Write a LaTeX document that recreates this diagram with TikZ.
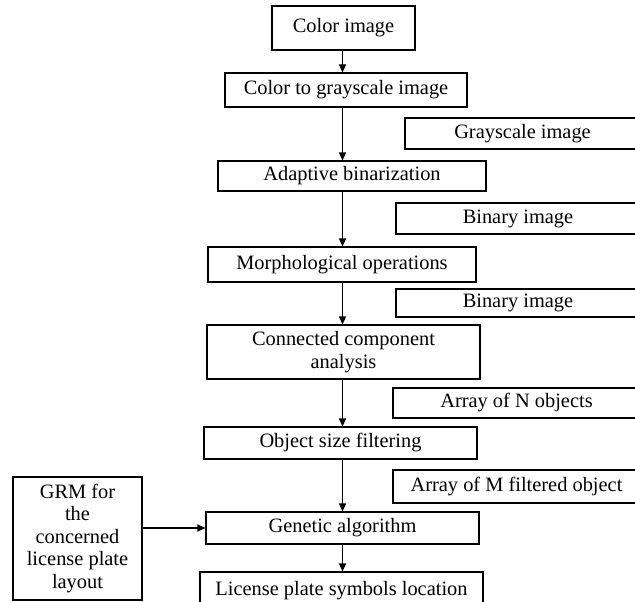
\documentclass[tikz,border=0pt]{standalone}
\usepackage{fontspec}
\setmainfont{Liberation Serif}
\usetikzlibrary{calc}
\usetikzlibrary{arrows.meta}

\begin{document}
\begin{tikzpicture}[x=1pt,y=-1pt,
  font=\fontsize{20.4}{22.5}\selectfont,
  >={Triangle[length=8pt,width=7pt]},
  box/.style={draw, line width=1.1pt, inner sep=0pt, align=center},
  flow/.style={line width=1.1pt, ->}]
\useasboundingbox (0,0) rectangle (635,602);
% main column
\node[box, minimum width=143, minimum height=44] (color) at (343.5,28) {Color image};
\node[box, minimum width=242, minimum height=34] (gray) at (346,90) {Color to grayscale image};
\node[box, minimum width=268, minimum height=30] (adapt) at (352,176) {Adaptive binarization};
\node[box, minimum width=268, minimum height=35] (morph) at (342,264.5) {Morphological operations};
\node[box, minimum width=273, minimum height=54] (conn) at (343.5,352) {Connected component\\analysis};
\node[box, minimum width=273, minimum height=32] (obj) at (340.5,443) {Object size filtering};
\node[box, minimum width=273, minimum height=32] (gen) at (342.5,528) {Genetic algorithm};
\node[box, minimum width=283, minimum height=38] (lic) at (341.5,591) {License plate symbols location};
% data between the steps
\node[box, minimum width=235, minimum height=31] (grayimg) at (522.5,133.5) {Grayscale image};
\node[box, minimum width=244, minimum height=31] (binimg) at (518,218.5) {Binary image};
\node[box, minimum width=244, minimum height=28] (binimgb) at (518,303) {Binary image};
\node[box, minimum width=247, minimum height=30] (arrn) at (516.5,403) {Array of N objects};
\node[box, minimum width=247, minimum height=33] (arrm) at (516.5,486.5) {Array of M filtered object};
% model input
\node[box, minimum width=129, minimum height=123] (grm) at (77.5,538.5) {GRM for\\the\\concerned\\license plate\\layout};

\coordinate (spine) at (342.5,0);
\foreach \a/\b in {color/gray,gray/adapt,adapt/morph,morph/conn,conn/obj,obj/gen,gen/lic}
  \draw[flow] (\a.south -| spine) -- (\b.north -| spine);
\draw[flow] (grm.east |- gen) -- (gen.west);
\end{tikzpicture}
\end{document}
